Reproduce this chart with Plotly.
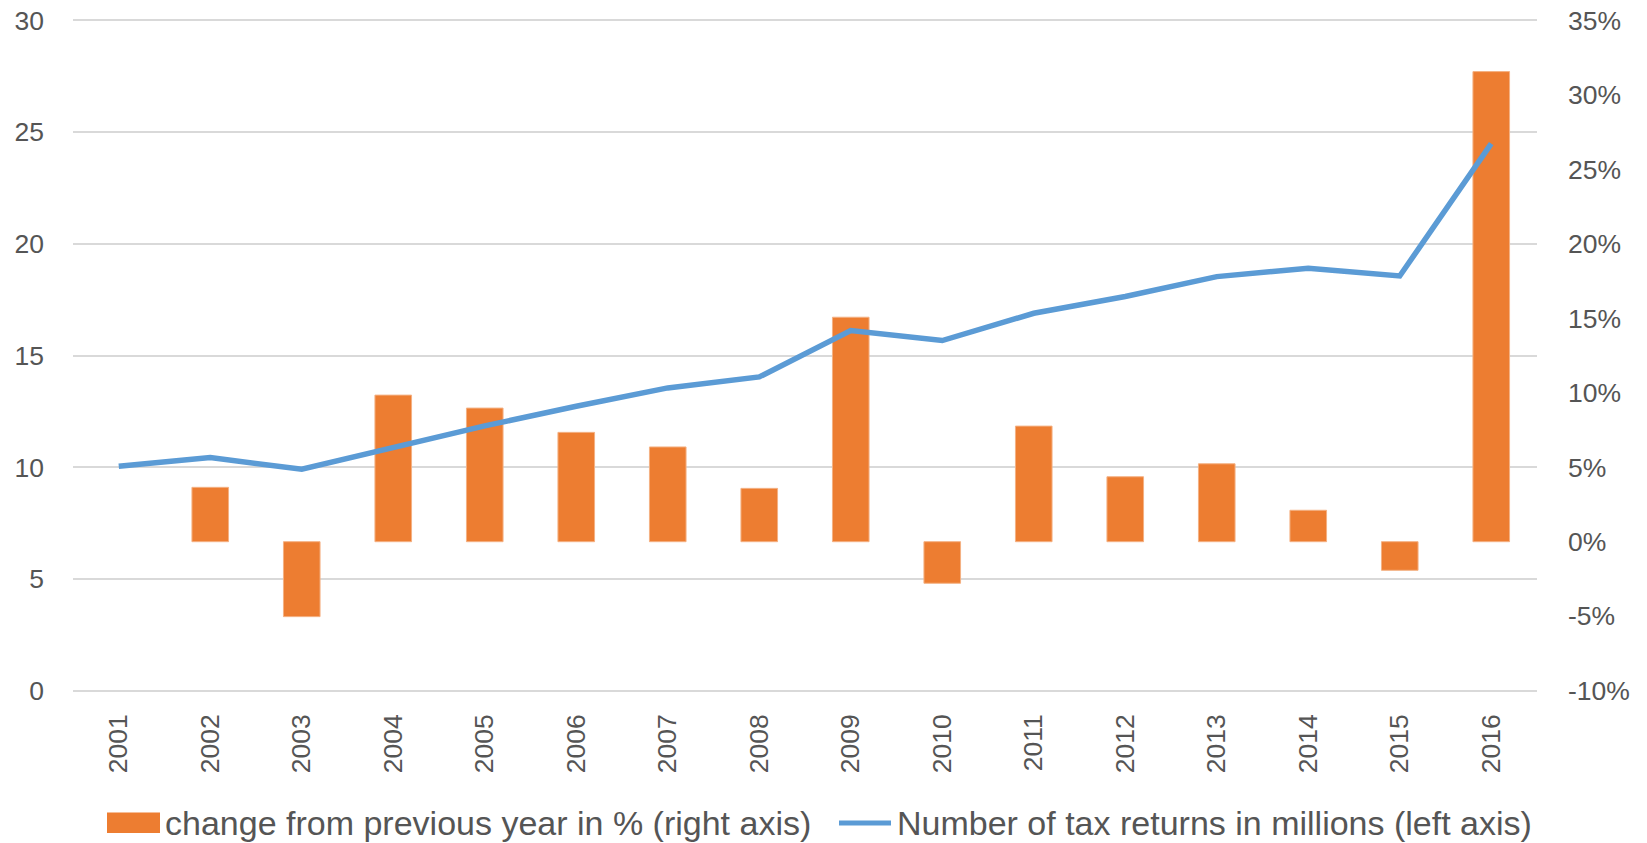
import plotly.graph_objects as go

years = ["2001", "2002", "2003", "2004", "2005", "2006", "2007", "2008",
         "2009", "2010", "2011", "2012", "2013", "2014", "2015", "2016"]
tax_returns_millions = [10.04, 10.43, 9.91, 10.88, 11.85, 12.73, 13.55, 14.04,
                        16.12, 15.67, 16.89, 17.64, 18.53, 18.91, 18.56, 24.48]
change_pct = [None, 3.65, -5.03, 9.84, 8.97, 7.34, 6.36, 3.58,
              15.07, -2.79, 7.76, 4.36, 5.23, 2.11, -1.92, 31.56]

left_ticks = [0, 5, 10, 15, 20, 25, 30]
right_ticks = [-10, -5, 0, 5, 10, 15, 20, 25, 30, 35]
right_tick_text = ["-10%", "-5%", "0%", "5%", "10%", "15%", "20%", "25%", "30%", "35%"]

bar_label = "change from previous year in % (right axis)"
line_label = "Number of tax returns in millions (left axis)"

ORANGE = "#ED7D31"
BLUE = "#5B9BD5"
GREY_TXT = "#555555"
GRID = "#D9D9D9"
TICK_FONT = dict(family="Liberation Sans, Arial, sans-serif", size=26.5, color=GREY_TXT)
LEG_FONT = dict(family="Liberation Sans, Arial, sans-serif", size=34, color=GREY_TXT)

# page body has an 8px margin; figure coordinates = screen coordinates - 8
OFF = 8
W, H = 1639, 835
ml, mr, mt, mb = 65, 110, 11, 151
pw, ph = W - ml - mr, H - mt - mb


def px_x(p):
    return (p - OFF - ml) / pw


def px_y(p):
    return (H - mb - (p - OFF)) / ph


fig = go.Figure()
fig.add_trace(go.Bar(
    x=years, y=change_pct, name=bar_label, yaxis="y",
    marker=dict(color=ORANGE, line=dict(color="#F4B183", width=1)),
    width=0.4, showlegend=False,
))
fig.add_trace(go.Scatter(
    x=years, y=tax_returns_millions, name=line_label, yaxis="y2",
    mode="lines", line=dict(color=BLUE, width=5.5), showlegend=False,
))

fig.update_layout(
    width=W, height=H, autosize=False,
    margin=dict(l=ml, r=mr, t=mt, b=mb, pad=0, autoexpand=False),
    paper_bgcolor="white", plot_bgcolor="white",
    xaxis=dict(
        type="category", tickangle=-90, tickfont=TICK_FONT,
        showgrid=False, showline=False, ticks="", ticklabelstandoff=16,
        automargin=False, ticklabeloverflow="allow",
    ),
    yaxis=dict(
        side="right", range=[-10.09, 35.09],
        tickmode="array", tickvals=right_ticks, ticktext=right_tick_text,
        showgrid=False, zeroline=False, showline=False, ticks="",
        tickfont=TICK_FONT, ticklabelstandoff=30, automargin=False,
        ticklabeloverflow="allow",
    ),
    yaxis2=dict(
        side="left", overlaying="y", range=[-0.06, 30.06],
        tickmode="array", tickvals=left_ticks,
        showgrid=True, gridcolor=GRID, gridwidth=2, zeroline=False,
        showline=False, ticks="", tickfont=TICK_FONT, ticklabelstandoff=28,
        automargin=False, ticklabeloverflow="allow",
    ),
    shapes=[
        dict(type="rect", xref="paper", yref="paper",
             x0=px_x(107), x1=px_x(160), y0=px_y(833), y1=px_y(812.5),
             fillcolor=ORANGE, line=dict(width=0)),
        dict(type="line", xref="paper", yref="paper",
             x0=px_x(839), x1=px_x(891), y0=px_y(823), y1=px_y(823),
             line=dict(color=BLUE, width=5)),
    ],
    annotations=[
        dict(text=bar_label, xref="paper", yref="paper", x=px_x(163), y=px_y(823),
             xanchor="left", yanchor="middle", showarrow=False, font=LEG_FONT),
        dict(text=line_label, xref="paper", yref="paper", x=px_x(895), y=px_y(823),
             xanchor="left", yanchor="middle", showarrow=False, font=LEG_FONT),
    ],
)

fig.write_html("out.html")
